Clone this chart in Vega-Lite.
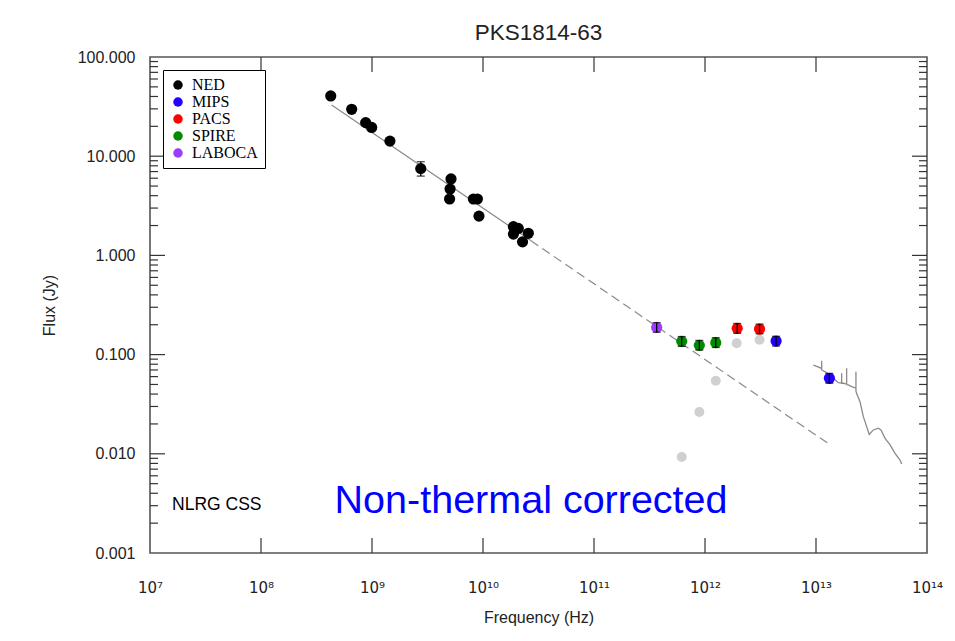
{
  "$schema": "https://vega.github.io/schema/vega-lite/v6.json",
  "autosize": {"type": "none"},
  "width": 777,
  "height": 496,
  "padding": {"left": 150, "top": 57, "right": 28, "bottom": 88},
  "background": "white",
  "config": {"font": "Liberation Sans", "view": {"stroke": "#555", "strokeWidth": 1.6}},
  "title": {"text": "PKS1814-63", "fontSize": 22.5, "fontWeight": "normal", "color": "#222", "offset": 5, "anchor": "middle"},
  "datasets": {
    "pts": [
      {"src": "NED", "f": 4.25e8, "S": 40.5},
      {"src": "NED", "f": 6.56e8, "S": 29.7},
      {"src": "NED", "f": 8.77e8, "S": 21.8},
      {"src": "NED", "f": 9.93e8, "S": 19.5},
      {"src": "NED", "f": 1.45e9, "S": 14.2},
      {"src": "NED", "f": 2.75e9, "S": 7.5, "lo": 6.3, "hi": 8.8},
      {"src": "NED", "f": 5.15e9, "S": 5.9},
      {"src": "NED", "f": 5.05e9, "S": 4.67},
      {"src": "NED", "f": 5.0e9, "S": 3.7},
      {"src": "NED", "f": 8.2e9, "S": 3.7},
      {"src": "NED", "f": 8.9e9, "S": 3.7},
      {"src": "NED", "f": 9.2e9, "S": 2.49},
      {"src": "NED", "f": 1.88e10, "S": 1.95},
      {"src": "NED", "f": 2.08e10, "S": 1.87},
      {"src": "NED", "f": 1.88e10, "S": 1.64},
      {"src": "NED", "f": 2.27e10, "S": 1.37},
      {"src": "NED", "f": 2.56e10, "S": 1.67},
      {"src": "LABOCA", "f": 3.67e11, "S": 0.188, "lo": 0.168, "hi": 0.21},
      {"src": "SPIRE", "f": 6.17e11, "S": 0.136, "lo": 0.121, "hi": 0.152},
      {"src": "SPIRE", "f": 8.89e11, "S": 0.124, "lo": 0.111, "hi": 0.139},
      {"src": "SPIRE", "f": 1.25e12, "S": 0.132, "lo": 0.118, "hi": 0.148},
      {"src": "PACS", "f": 1.95e12, "S": 0.184, "lo": 0.164, "hi": 0.206},
      {"src": "PACS", "f": 3.1e12, "S": 0.181, "lo": 0.162, "hi": 0.203},
      {"src": "MIPS", "f": 4.37e12, "S": 0.137, "lo": 0.122, "hi": 0.153},
      {"src": "MIPS", "f": 1.32e13, "S": 0.0577, "lo": 0.0515, "hi": 0.0646}
    ],
    "gray": [
      {"f": 1.93e12, "S": 0.130},
      {"f": 3.1e12, "S": 0.141},
      {"f": 1.25e12, "S": 0.0546},
      {"f": 8.89e11, "S": 0.0264},
      {"f": 6.17e11, "S": 0.0093}
    ],
    "fitSolid": [
      {"f": 4.33e8, "S": 32.8},
      {"f": 2.69e10, "S": 1.41}
    ],
    "fitDash": [
      {"f": 2.69e10, "S": 1.41},
      {"f": 1.32e13, "S": 0.01247}
    ],
    "irs": [
      {"i": 1, "f": 9.47e12, "S": 0.0785},
      {"i": 2, "f": 1.10e13, "S": 0.0735},
      {"i": 3, "f": 1.125e13, "S": 0.0712},
      {"i": 4, "f": 1.125e13, "S": 0.0867},
      {"i": 5, "f": 1.125e13, "S": 0.070},
      {"i": 6, "f": 1.247e13, "S": 0.0658},
      {"i": 7, "f": 1.432e13, "S": 0.0577},
      {"i": 8, "f": 1.588e13, "S": 0.0521},
      {"i": 9, "f": 1.70e13, "S": 0.0516},
      {"i": 10, "f": 1.703e13, "S": 0.0647},
      {"i": 11, "f": 1.703e13, "S": 0.0514},
      {"i": 12, "f": 1.762e13, "S": 0.0514},
      {"i": 13, "f": 1.888e13, "S": 0.0505},
      {"i": 14, "f": 1.888e13, "S": 0.0728},
      {"i": 15, "f": 1.888e13, "S": 0.0497},
      {"i": 16, "f": 1.953e13, "S": 0.0494},
      {"i": 17, "f": 2.096e13, "S": 0.0475},
      {"i": 18, "f": 2.29e13, "S": 0.046},
      {"i": 19, "f": 2.29e13, "S": 0.0673},
      {"i": 20, "f": 2.29e13, "S": 0.043},
      {"i": 21, "f": 2.32e13, "S": 0.0407},
      {"i": 22, "f": 2.49e13, "S": 0.0335},
      {"i": 23, "f": 2.67e13, "S": 0.0237},
      {"i": 24, "f": 2.86e13, "S": 0.0188},
      {"i": 25, "f": 3.02e13, "S": 0.0157},
      {"i": 26, "f": 3.28e13, "S": 0.0174},
      {"i": 27, "f": 3.64e13, "S": 0.0181},
      {"i": 28, "f": 3.85e13, "S": 0.0174},
      {"i": 29, "f": 4.19e13, "S": 0.0143},
      {"i": 30, "f": 4.65e13, "S": 0.0123},
      {"i": 31, "f": 5.15e13, "S": 0.0101},
      {"i": 32, "f": 5.71e13, "S": 0.00865},
      {"i": 33, "f": 5.92e13, "S": 0.00789}
    ],
    "yMajor": [{"v": 0.01}, {"v": 0.1}, {"v": 1}, {"v": 10}],
    "yMinor": [
      {"v": 0.002}, {"v": 0.003}, {"v": 0.004}, {"v": 0.005}, {"v": 0.006}, {"v": 0.007}, {"v": 0.008}, {"v": 0.009},
      {"v": 0.02}, {"v": 0.03}, {"v": 0.04}, {"v": 0.05}, {"v": 0.06}, {"v": 0.07}, {"v": 0.08}, {"v": 0.09},
      {"v": 0.2}, {"v": 0.3}, {"v": 0.4}, {"v": 0.5}, {"v": 0.6}, {"v": 0.7}, {"v": 0.8}, {"v": 0.9},
      {"v": 2}, {"v": 3}, {"v": 4}, {"v": 5}, {"v": 6}, {"v": 7}, {"v": 8}, {"v": 9},
      {"v": 20}, {"v": 30}, {"v": 40}, {"v": 50}, {"v": 60}, {"v": 70}, {"v": 80}, {"v": 90}
    ],
    "xMajor": [{"v": 1e8}, {"v": 1e9}, {"v": 1e10}, {"v": 1e11}, {"v": 1e12}, {"v": 1e13}]
  },
  "layer": [
    {
      "data": {"name": "fitSolid"},
      "mark": {"type": "line", "color": "#8a8a8a", "strokeWidth": 1.2},
      "encoding": {
        "x": {"field": "f", "type": "quantitative", "scale": {"type": "log", "domain": [1e7, 1e14], "nice": false},
          "axis": {"orient": "bottom", "values": [1e7, 1e8, 1e9, 1e10, 1e11, 1e12, 1e13, 1e14],
            "labelExpr": "datum.value < 5e7 ? '10⁷' : datum.value < 5e8 ? '10⁸' : datum.value < 5e9 ? '10⁹' : datum.value < 5e10 ? '10¹⁰' : datum.value < 5e11 ? '10¹¹' : datum.value < 5e12 ? '10¹²' : datum.value < 5e13 ? '10¹³' : '10¹⁴'",
            "title": "Frequency (Hz)", "titleFontSize": 16, "titleFontWeight": "normal", "titleColor": "#222", "titlePadding": 14,
            "labelFont": "DejaVu Sans", "labelFontSize": 15, "labelColor": "#222", "labelPadding": 27, "labelFlush": false,
            "ticks": false, "domain": false, "grid": false}},
        "y": {"field": "S", "type": "quantitative", "scale": {"type": "log", "domain": [0.001, 100], "nice": false},
          "axis": {"orient": "left",
            "values": [0.001, 0.01, 0.1, 1, 10, 100],
            "format": ".3f",
            "ticks": false,
            "title": "Flux (Jy)", "titleFontSize": 16, "titleFontWeight": "normal", "titleColor": "#222", "titlePadding": 20,
            "labelFontSize": 16, "labelColor": "#222", "labelPadding": 15, "labelFlush": false, "labelOverlap": false,
            "domain": false, "grid": false}}
      }
    },
    {
      "data": {"name": "yMajor"},
      "mark": {"type": "rule", "color": "#333", "strokeWidth": 1.2},
      "encoding": {
        "x": {"datum": 1e7, "type": "quantitative"},
        "x2": {"datum": 1.365e7},
        "y": {"field": "v", "type": "quantitative"}
      }
    },
    {
      "data": {"name": "yMajor"},
      "mark": {"type": "rule", "color": "#333", "strokeWidth": 1.2},
      "encoding": {
        "x": {"datum": 7.32e13, "type": "quantitative"},
        "x2": {"datum": 1e14},
        "y": {"field": "v", "type": "quantitative"}
      }
    },
    {
      "data": {"name": "yMinor"},
      "mark": {"type": "rule", "color": "#333", "strokeWidth": 1.2},
      "encoding": {
        "x": {"datum": 1e7, "type": "quantitative"},
        "x2": {"datum": 1.18e7},
        "y": {"field": "v", "type": "quantitative"}
      }
    },
    {
      "data": {"name": "yMinor"},
      "mark": {"type": "rule", "color": "#333", "strokeWidth": 1.2},
      "encoding": {
        "x": {"datum": 8.47e13, "type": "quantitative"},
        "x2": {"datum": 1e14},
        "y": {"field": "v", "type": "quantitative"}
      }
    },
    {
      "data": {"name": "xMajor"},
      "mark": {"type": "rule", "color": "#333", "strokeWidth": 1.2},
      "encoding": {
        "x": {"field": "v", "type": "quantitative"},
        "y": {"datum": 0.001, "type": "quantitative"},
        "y2": {"datum": 0.001416}
      }
    },
    {
      "data": {"name": "xMajor"},
      "mark": {"type": "rule", "color": "#333", "strokeWidth": 1.2},
      "encoding": {
        "x": {"field": "v", "type": "quantitative"},
        "y": {"datum": 70.6, "type": "quantitative"},
        "y2": {"datum": 100}
      }
    },
    {
      "data": {"name": "fitDash"},
      "mark": {"type": "line", "color": "#8a8a8a", "strokeWidth": 1.2, "strokeDash": [9, 5]},
      "encoding": {
        "x": {"field": "f", "type": "quantitative"},
        "y": {"field": "S", "type": "quantitative"}
      }
    },
    {
      "data": {"name": "irs"},
      "mark": {"type": "line", "color": "#8a8a8a", "strokeWidth": 1.3},
      "encoding": {
        "x": {"field": "f", "type": "quantitative"},
        "y": {"field": "S", "type": "quantitative"},
        "order": {"field": "i", "type": "quantitative"}
      }
    },
    {
      "data": {"name": "gray"},
      "mark": {"type": "point", "filled": true, "color": "#d0d0d0", "opacity": 1, "size": 100},
      "encoding": {
        "x": {"field": "f", "type": "quantitative"},
        "y": {"field": "S", "type": "quantitative"}
      }
    },
    {
      "data": {"name": "pts"},
      "mark": {"type": "point", "filled": true, "opacity": 1, "size": 125},
      "encoding": {
        "x": {"field": "f", "type": "quantitative"},
        "y": {"field": "S", "type": "quantitative"},
        "color": {"field": "src", "type": "nominal",
          "scale": {"domain": ["NED", "MIPS", "PACS", "SPIRE", "LABOCA"], "range": ["#000000", "#2200ff", "#ff0000", "#008c00", "#9b3cff"]},
          "legend": {"orient": "top-left", "offset": 13, "title": null, "strokeColor": "black", "fillColor": "white",
            "padding": 7, "labelFont": "Liberation Serif", "labelFontSize": 16, "labelColor": "black", "symbolType": "circle",
            "symbolSize": 90, "symbolStrokeWidth": 0, "rowPadding": 1, "labelOffset": 6}}
      }
    },
    {
      "data": {"name": "pts"},
      "transform": [{"filter": "isValid(datum.lo)"}],
      "mark": {"type": "rule", "color": "black", "strokeWidth": 1.3},
      "encoding": {
        "x": {"field": "f", "type": "quantitative"},
        "y": {"field": "lo", "type": "quantitative"},
        "y2": {"field": "hi"}
      }
    },
    {
      "data": {"name": "pts"},
      "transform": [{"filter": "isValid(datum.lo)"}],
      "mark": {"type": "tick", "orient": "horizontal", "color": "black", "size": 8, "thickness": 1.3},
      "encoding": {
        "x": {"field": "f", "type": "quantitative"},
        "y": {"field": "lo", "type": "quantitative"}
      }
    },
    {
      "data": {"name": "pts"},
      "transform": [{"filter": "isValid(datum.hi)"}],
      "mark": {"type": "tick", "orient": "horizontal", "color": "black", "size": 8, "thickness": 1.3},
      "encoding": {
        "x": {"field": "f", "type": "quantitative"},
        "y": {"field": "hi", "type": "quantitative"}
      }
    },
    {
      "data": {"values": [{"f": 1.58e7, "S": 0.00271, "label": "NLRG CSS"}]},
      "mark": {"type": "text", "align": "left", "baseline": "alphabetic", "fontSize": 17.5, "color": "black"},
      "encoding": {
        "x": {"field": "f", "type": "quantitative"},
        "y": {"field": "S", "type": "quantitative"},
        "text": {"field": "label"}
      }
    },
    {
      "data": {"values": [{"f": 2.71e10, "S": 0.00253, "label": "Non-thermal corrected"}]},
      "mark": {"type": "text", "align": "center", "baseline": "alphabetic", "fontSize": 39.5, "color": "#0000ff"},
      "encoding": {
        "x": {"field": "f", "type": "quantitative"},
        "y": {"field": "S", "type": "quantitative"},
        "text": {"field": "label"}
      }
    }
  ]
}
